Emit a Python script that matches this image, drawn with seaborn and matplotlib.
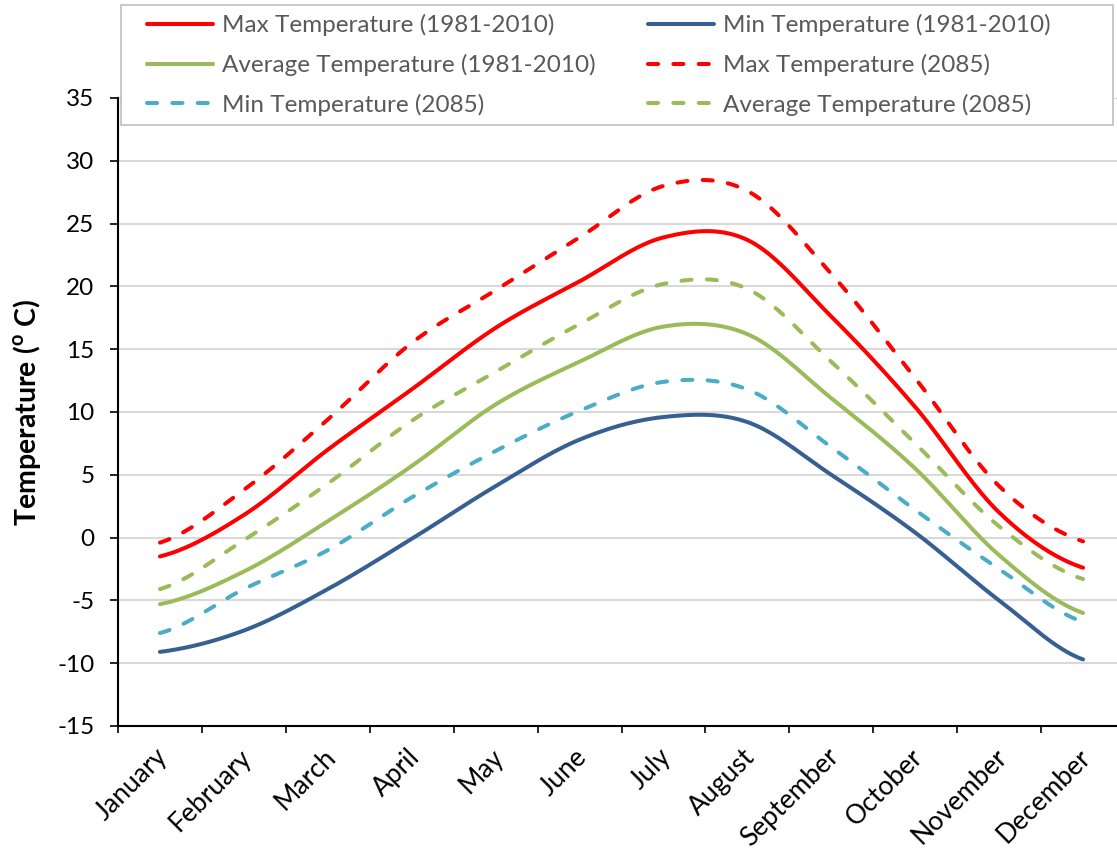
import numpy as np
import pandas as pd
import matplotlib
matplotlib.use("Agg")
import matplotlib.pyplot as plt
import matplotlib.transforms as mtransforms
import seaborn as sns
from matplotlib.patches import Rectangle

# Monthly temperatures (deg C)
months = ["January", "February", "March", "April", "May", "June",
          "July", "August", "September", "October", "November", "December"]
max_1981_2010 = [-1.5, 1.8, 7.0, 11.8, 16.7, 20.4, 23.9, 23.7, 17.6, 10.4, 2.0, -2.4]
min_1981_2010 = [-9.1, -7.4, -4.1, -0.1, 4.1, 7.8, 9.6, 9.2, 5.0, 0.4, -5.0, -9.7]
avg_1981_2010 = [-5.3, -2.7, 1.3, 5.7, 10.6, 14.0, 16.8, 16.2, 11.1, 5.5, -1.4, -6.0]
max_2085 = [-0.4, 3.8, 9.4, 15.5, 19.7, 23.9, 28.0, 27.6, 21.0, 12.7, 4.1, -0.3]
min_2085 = [-7.6, -4.1, -1.0, 3.2, 6.9, 10.1, 12.4, 11.8, 7.2, 2.2, -2.5, -6.7]
avg_2085 = [-4.1, -0.2, 4.3, 9.3, 13.2, 17.0, 20.2, 19.8, 14.0, 7.5, 0.9, -3.3]

yticks = list(range(-15, 40, 5))


def smooth_curve(vals, steps=40):
    """Cardinal (Catmull-Rom) smoothing through every monthly value."""
    p = np.asarray(vals, dtype=float)
    n = len(p)
    m = np.empty(n)
    m[1:-1] = (p[2:] - p[:-2]) / 2.0
    m[0] = (p[1] - p[0]) / 2.0
    m[-1] = (p[-1] - p[-2]) / 2.0
    xs, ys = [], []
    for i in range(n - 1):
        t = np.linspace(0, 1, steps, endpoint=False)
        h00 = 2 * t**3 - 3 * t**2 + 1
        h10 = t**3 - 2 * t**2 + t
        h01 = -2 * t**3 + 3 * t**2
        h11 = t**3 - t**2
        xs.append(i + t)
        ys.append(h00 * p[i] + h10 * m[i] + h01 * p[i + 1] + h11 * m[i + 1])
    xs.append(np.array([n - 1.0]))
    ys.append(np.array([p[-1]]))
    return np.concatenate(xs), np.concatenate(ys)


sns.set_theme(style="white")
plt.rcParams["font.family"] = ["Lato", "DejaVu Sans"]
plt.rcParams["mathtext.fontset"] = "custom"
plt.rcParams["mathtext.rm"] = "Lato"
plt.rcParams["mathtext.bf"] = "Lato:bold"
plt.rcParams["axes.unicode_minus"] = False

W, H = 1117, 858
fig = plt.figure(figsize=(W / 100, H / 100), dpi=100)
fig.patch.set_facecolor("white")
ax = fig.add_axes([118 / W, 132 / H, 1007 / W, 628 / H])

series = [
    ("Max Temperature (1981-2010)", max_1981_2010, "#FF0000", False),
    ("Min Temperature (1981-2010)", min_1981_2010, "#376092", False),
    ("Average Temperature (1981-2010)", avg_1981_2010, "#9BBB59", False),
    ("Max Temperature (2085)", max_2085, "#FF0000", True),
    ("Min Temperature (2085)", min_2085, "#4BACC6", True),
    ("Average Temperature (2085)", avg_2085, "#9BBB59", True),
]

handles = {}
for label, vals, color, dashed in series:
    xs, ys = smooth_curve(vals)
    df = pd.DataFrame({"x": xs, "y": ys})
    sns.lineplot(data=df, x="x", y="y", ax=ax, color=color, linewidth=2.9,
                 legend=False, errorbar=None)
    line = ax.lines[-1]
    line.set_solid_capstyle("round")
    if dashed:
        line.set_dashes((2.5, 3.8))
        line.set_dash_capstyle("round")
    handles[label] = line

ax.set_xlim(-0.5, 11.5)
ax.set_ylim(-15, 35)
ax.set_yticks(yticks)
ax.set_xticks(range(len(months)))
ax.set_xticklabels(months, rotation=45, ha="right", rotation_mode="anchor")
ax.set_xticks(np.arange(-0.5, 12, 1), minor=True)
ax.tick_params(axis="x", which="major", length=0, pad=13, labelsize=19,
               labelcolor="black", bottom=True)
ax.tick_params(axis="x", which="minor", length=5, width=1.2, color="black",
               direction="out", bottom=True)
ax.tick_params(axis="y", length=6, width=1.2, color="black", direction="out",
               pad=11, labelsize=17.5, labelcolor="black", left=True)

# nudge the rotated month names slightly left so they end at each category
shift = mtransforms.ScaledTranslation(-5 / 100, 0, fig.dpi_scale_trans)
for lbl in ax.get_xticklabels():
    lbl.set_transform(lbl.get_transform() + shift)

ax.yaxis.grid(True, color="#D9D9D9", linewidth=1.5)
ax.xaxis.grid(False)
ax.set_axisbelow(True)
for s in ["top", "right"]:
    ax.spines[s].set_visible(False)
for s in ["left", "bottom"]:
    ax.spines[s].set_color("black")
    ax.spines[s].set_linewidth(1.5)

ax.set_xlabel("")
ax.set_ylabel(r"Temperature ($^{\mathbf{o}}$ C)", fontsize=20.5, fontweight="bold",
              color="black")
ax.yaxis.set_label_coords(-0.0745, 0.5)

# Legend box spanning the top of the chart
fig.add_artist(Rectangle((121 / W, 1 - 125 / H), 992 / W, 120 / H,
                         transform=fig.transFigure, facecolor="white",
                         edgecolor="#BFBFBF", linewidth=1.2, zorder=3))

legend_kw = dict(loc="center left", frameon=False, borderpad=0, borderaxespad=0,
                 handlelength=2.7, handletextpad=0.37, labelspacing=0.72,
                 fontsize=17.5, labelcolor="#595959")
col1 = ["Max Temperature (1981-2010)", "Average Temperature (1981-2010)",
        "Min Temperature (2085)"]
col2 = ["Min Temperature (1981-2010)", "Max Temperature (2085)",
        "Average Temperature (2085)"]
leg1 = fig.legend([handles[k] for k in col1], col1,
                  bbox_to_anchor=(147 / W, 1 - 65 / H), **legend_kw)
leg2 = fig.legend([handles[k] for k in col2], col2,
                  bbox_to_anchor=(648 / W, 1 - 65 / H), **legend_kw)
leg1.set_zorder(5)
leg2.set_zorder(5)

fig.savefig("out.png", dpi=100, facecolor="white")
